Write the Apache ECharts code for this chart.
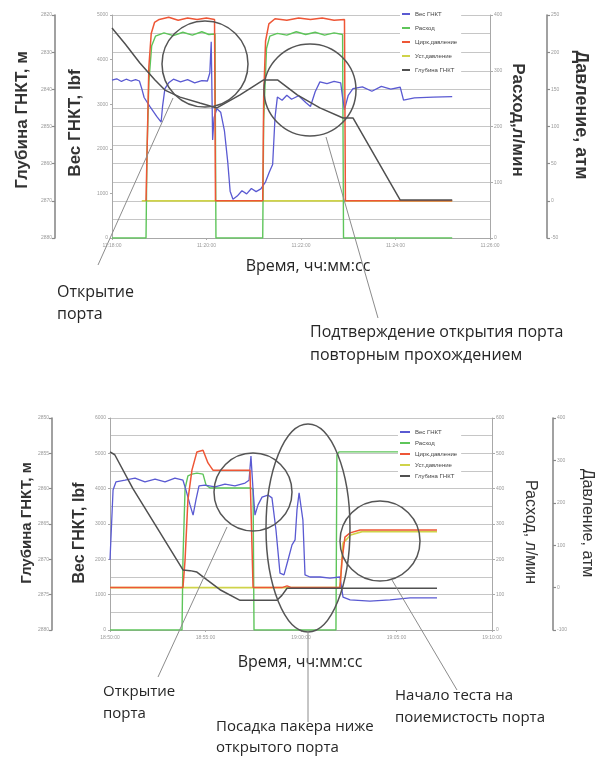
<!DOCTYPE html>
<html>
<head>
<meta charset="utf-8">
<script src="https://cdn.jsdelivr.net/npm/echarts@6/dist/echarts.min.js"></script>
<style>
  html, body { margin: 0; padding: 0; background: #fff; }
  #chart { width: 597px; height: 757px; }
</style>
</head>
<body>
<div id="chart"></div>
<script>
// ---- Run 1: port opening, time in minutes from the first tick ----
const c1TimeLabels = ['11:18:00', '11:20:00', '11:22:00', '11:24:00', '11:26:00'];
const c1Weight = [[0,3540],[0.1,3570],[0.2,3510],[0.3,3560],[0.4,3520],[0.5,3550],[0.58,3520],[0.63,3350],[0.68,3150],[0.8,2950],[0.95,2720],[1.04,2600],[1.07,2950],[1.12,3350],[1.2,3480],[1.3,3560],[1.45,3500],[1.6,3550],[1.75,3480],[1.9,3530],[2.02,3520],[2.07,3700],[2.1,4400],[2.13,2200],[2.16,2700],[2.22,2900],[2.3,2820],[2.38,2400],[2.45,1700],[2.5,1050],[2.56,870],[2.65,940],[2.75,1060],[2.85,990],[2.95,1110],[3.05,1040],[3.15,1100],[3.25,1260],[3.33,1480],[3.4,1650],[3.45,2700],[3.5,3160],[3.6,3090],[3.7,3200],[3.8,3110],[3.95,3190],[4.1,3040],[4.2,2950],[4.3,3280],[4.4,3500],[4.55,3460],[4.7,3510],[4.84,3480],[4.88,3150],[4.92,2880],[5.0,3200],[5.1,3350],[5.3,3390],[5.5,3290],[5.7,3400],[5.9,3340],[6.1,3380],[6.17,3090],[6.4,3140],[6.8,3160],[7.2,3170]];
const c1Flow = [[0,0],[0.72,0],[0.74,150],[0.78,280],[0.84,345],[0.92,362],[1.1,368],[1.3,363],[1.5,369],[1.7,364],[1.9,370],[2.05,365],[2.18,366],[2.2,0],[3.19,0],[3.21,210],[3.27,340],[3.34,362],[3.5,367],[3.7,364],[3.9,370],[4.1,365],[4.3,369],[4.5,364],[4.7,368],[4.88,365],[4.9,0],[7.2,0]];
const c1CircPressure = [[0.72,0],[0.75,90],[0.78,180],[0.83,225],[0.9,240],[1.0,244],[1.2,247],[1.4,243],[1.6,246],[1.8,244],[2.0,246],[2.17,244],[2.19,0],[3.19,0],[3.21,140],[3.25,215],[3.32,238],[3.45,245],[3.7,243],[3.95,246],[4.2,244],[4.45,246],[4.7,243],[4.92,244],[4.94,0],[7.2,0]];
const c1SetPressure = [[0.63,0],[7.2,0]];
const c1Depth = [[0,2823.5],[0.28,2827.8],[0.59,2832.9],[0.91,2837.5],[1.12,2840.2],[1.44,2842.1],[1.86,2843.7],[2.22,2845.0],[2.71,2841.5],[3.2,2837.5],[3.51,2837.5],[3.92,2841.5],[4.4,2845.0],[4.89,2847.7],[5.1,2847.7],[6.1,2869.8],[7.2,2869.8]];

// ---- Run 2: packer setting and injectivity test ----
const c2TimeLabels = ['18:50:00', '18:55:00', '19:00:00', '19:05:00', '19:10:00'];
const c2Weight = [[0,1980],[0.16,3960],[0.31,4190],[0.79,4240],[1.31,4300],[1.83,4190],[2.36,4270],[2.88,4190],[3.4,4300],[3.82,4240],[3.98,3960],[4.19,3540],[4.35,3250],[4.5,3680],[4.66,4080],[4.97,4100],[5.5,4050],[6.02,4130],[6.54,4080],[7.07,4160],[7.28,4240],[7.38,4920],[7.49,3960],[7.59,3250],[7.75,3540],[7.96,3760],[8.27,3820],[8.48,3740],[8.69,2830],[8.9,1610],[9.11,1560],[9.32,1980],[9.53,2410],[9.69,2550],[9.79,3400],[9.9,3880],[10.0,3900],[10.1,3110],[10.21,1560],[10.47,1500],[11.0,1500],[11.52,1470],[12.04,1500],[12.2,930],[12.57,850],[13.61,820],[14.66,850],[15.71,910],[17.12,910]];
const c2Flow = [[0,0],[3.77,0],[3.82,200],[3.93,400],[4.08,436],[4.29,441],[4.55,444],[4.87,441],[5.03,410],[5.24,402],[6.28,402],[7.33,402],[7.49,399],[7.54,0],[11.83,0],[11.88,495],[11.99,504],[17.12,504]];
const c2CircPressure = [[0,0],[3.82,0],[3.93,65],[4.08,207],[4.29,277],[4.55,320],[4.87,324],[5.13,294],[5.39,277],[6.28,277],[7.33,277],[7.43,277],[7.49,0],[9.0,0],[9.27,4],[9.5,0],[12.04,0],[12.15,65],[12.3,119],[12.57,129],[13.09,136],[15.18,136],[17.12,136]];
const c2SetPressure = [[0,0],[12.04,0],[12.2,105],[12.6,124],[13.2,132],[17.12,132]];
const c2Depth = [[0,2854.8],[0.25,2855.2],[1.2,2860.0],[2.5,2865.7],[3.82,2871.5],[4.19,2871.6],[4.55,2871.8],[5.08,2872.9],[5.76,2874.3],[6.81,2875.8],[8.74,2875.8],[9.0,2875.1],[9.27,2874.1],[17.12,2874.1]];

const seriesNames = ['Вес ГНКТ', 'Расход', 'Цирк.давление', 'Уст.давление', 'Глубина ГНКТ'];
const colors = { weight: '#5a5ad2', flow: '#5ec55a', circ: '#ee5636', set: '#cfd34a', depth: '#505050' };

const chart = echarts.init(document.getElementById('chart'), null, { renderer: 'canvas' });

const tickFont = { fontSize: 5, color: '#9a9a9a', fontFamily: 'Liberation Sans' };
const plain = v => String(v);
const borderColor = '#a8a8a8';

function xAxisDef(gridIndex, max, interval, labels) {
  return {
    gridIndex, type: 'value', min: 0, max, interval,
    axisLine: { show: true, lineStyle: { color: borderColor, width: 1 } },
    axisTick: { show: true, length: 2, lineStyle: { color: '#aaa' } },
    axisLabel: Object.assign({ margin: 5, formatter: v => labels[Math.round(v / interval)] || '' }, tickFont),
    splitLine: { show: false }
  };
}

function yAxesFor(gridIndex, w, d, f, p, depthOffset, pressOffset) {
  return [
    { // weight, lbf
      gridIndex, type: 'value', position: 'left', min: w[0], max: w[1], interval: w[2],
      axisLine: { show: true, lineStyle: { color: borderColor } },
      axisTick: { show: true, length: 2, lineStyle: { color: '#aaa' } },
      axisLabel: Object.assign({ margin: 4, formatter: plain }, tickFont), splitLine: { show: false }
    },
    { // depth, m
      gridIndex, type: 'value', position: 'left', offset: depthOffset, inverse: true,
      min: d[0], max: d[1], interval: d[2],
      axisLine: { show: true, lineStyle: { color: '#8a8a8a', width: 1.6 } },
      axisTick: { show: true, length: 3, lineStyle: { color: '#8a8a8a', width: 1.2 } },
      axisLabel: Object.assign({ margin: 3, formatter: plain }, tickFont), splitLine: { show: false }
    },
    { // flow, l/min
      gridIndex, type: 'value', position: 'right', min: f[0], max: f[1], interval: f[2],
      axisLine: { show: true, lineStyle: { color: borderColor } },
      axisTick: { show: true, length: 3, lineStyle: { color: '#aaa' } },
      axisLabel: Object.assign({ margin: 4, formatter: plain }, tickFont), splitLine: { show: false }
    },
    { // pressure, atm
      gridIndex, type: 'value', position: 'right', offset: pressOffset,
      min: p[0], max: p[1], interval: p[2],
      axisLine: { show: true, lineStyle: { color: '#8a8a8a', width: 1.6 } },
      axisTick: { show: true, length: 3, lineStyle: { color: '#8a8a8a', width: 1.2 } },
      axisLabel: Object.assign({ margin: 4, formatter: plain }, tickFont), splitLine: { show: false }
    },
    { // horizontal grid lines
      gridIndex, type: 'value', position: 'left', min: 0, max: 12, interval: 1,
      axisLine: { show: false }, axisTick: { show: false }, axisLabel: { show: false },
      splitLine: { show: true, lineStyle: { color: '#c6c6c6', width: 1.2 } }
    }
  ];
}

function seriesFor(gridIndex, yBase, d) {
  const common = { type: 'line', showSymbol: false, symbol: 'none', xAxisIndex: gridIndex, animation: false, silent: true };
  return [
    Object.assign({ name: 'Уст.давление', yAxisIndex: yBase + 3, data: d.set, lineStyle: { color: colors.set, width: 1.6 }, itemStyle: { color: colors.set } }, common),
    Object.assign({ name: 'Расход', yAxisIndex: yBase + 2, data: d.flow, lineStyle: { color: colors.flow, width: 1.4 }, itemStyle: { color: colors.flow } }, common),
    Object.assign({ name: 'Вес ГНКТ', yAxisIndex: yBase, data: d.weight, lineStyle: { color: colors.weight, width: 1.3 }, itemStyle: { color: colors.weight } }, common),
    Object.assign({ name: 'Цирк.давление', yAxisIndex: yBase + 3, data: d.circ, lineStyle: { color: colors.circ, width: 1.5 }, itemStyle: { color: colors.circ } }, common),
    Object.assign({ name: 'Глубина ГНКТ', yAxisIndex: yBase + 1, data: d.depth, lineStyle: { color: colors.depth, width: 1.5 }, itemStyle: { color: colors.depth } }, common)
  ];
}

function legendDef(left, top, gap, iw) {
  return {
    orient: 'vertical', left, top, itemWidth: iw, itemHeight: 2, itemGap: gap, icon: 'rect',
    padding: [2, 4, 2, 2], backgroundColor: '#fff', selectedMode: false,
    textStyle: { fontSize: 6, lineHeight: 8, color: '#444', fontFamily: 'Liberation Sans' },
    data: seriesNames
  };
}

// text helpers for titles and notes
const titleFont = (size, weight) => `${weight} ${size}px "Liberation Sans", Arial, sans-serif`;
function vText(x, y, s, size, rot, weight) {
  return { type: 'text', x, y, rotation: rot, silent: true,
    style: { text: s, font: titleFont(size, weight || 'bold'), fill: '#333', align: 'center', verticalAlign: 'middle' } };
}
function note(x, y, s, size, align) {
  return { type: 'text', x, y, silent: true,
    style: { text: s, font: `normal ${size}px "Open Sans", "Noto Sans", sans-serif`, fill: '#262626', align: align || 'left', verticalAlign: 'middle' } };
}
const ringStyle = { fill: 'none', stroke: '#555', lineWidth: 1.5 };
const leaderStyle = { stroke: '#8c8c8c', lineWidth: 1 };
function ring(cx, cy, r) { return { type: 'circle', silent: true, z: 50, shape: { cx, cy, r }, style: ringStyle }; }
function oval(cx, cy, rx, ry) { return { type: 'ellipse', silent: true, z: 50, shape: { cx, cy, rx, ry }, style: ringStyle }; }
function leader(x1, y1, x2, y2) { return { type: 'line', silent: true, z: 50, shape: { x1, y1, x2, y2 }, style: leaderStyle }; }

const option = {
  animation: false,
  backgroundColor: '#fff',
  grid: [
    { left: 112, top: 15, width: 378, height: 223 },
    { left: 110, top: 418, width: 382, height: 212 }
  ],
  xAxis: [
    xAxisDef(0, 8, 2, c1TimeLabels),
    xAxisDef(1, 20, 5, c2TimeLabels)
  ],
  yAxis: [].concat(
    yAxesFor(0, [0, 5000, 1000], [2820, 2880, 10], [0, 400, 100], [-50, 250, 50], 57, 57),
    yAxesFor(1, [0, 6000, 1000], [2850, 2880, 5], [0, 600, 100], [-100, 400, 100], 58, 61)
  ),
  legend: [
    legendDef(400, 8, 6, 8),
    legendDef(398, 426, 3, 10)
  ],
  series: [].concat(
    seriesFor(0, 0, { weight: c1Weight, flow: c1Flow, circ: c1CircPressure, set: c1SetPressure, depth: c1Depth }),
    seriesFor(1, 5, { weight: c2Weight, flow: c2Flow, circ: c2CircPressure, set: c2SetPressure, depth: c2Depth })
  ),
  graphic: [
    // upper chart: axis titles
    vText(22, 120, 'Глубина ГНКТ, м', 17, Math.PI / 2),
    vText(75, 123, 'Вес ГНКТ, lbf', 17, Math.PI / 2),
    vText(518, 120, 'Расход,л/мин', 17, -Math.PI / 2),
    vText(581, 115, 'Давление, атм', 18, -Math.PI / 2),
    note(308, 266, 'Время, чч:мм:сс', 16, 'center'),
    // upper chart: highlighted events
    ring(205, 64, 43),
    ring(310, 90, 46),
    leader(173, 98, 98, 265),
    leader(326, 137, 378, 318),
    note(57, 292, 'Открытие', 16),
    note(57, 314, 'порта', 16),
    note(310, 332, 'Подтверждение открытия порта', 16),
    note(310, 355, 'повторным прохождением', 16),

    // lower chart: axis titles
    vText(27, 523, 'Глубина ГНКТ, м', 15, Math.PI / 2),
    vText(80, 533, 'Вес ГНКТ, lbf', 16, Math.PI / 2),
    vText(530, 532, 'Расход, л/мин', 16, -Math.PI / 2, 'normal'),
    vText(587, 523, 'Давление, атм', 16, -Math.PI / 2, 'normal'),
    note(300, 662, 'Время, чч:мм:сс', 16, 'center'),
    // lower chart: highlighted events
    ring(253, 492, 39),
    oval(308, 528, 42, 104),
    ring(380, 541, 40),
    leader(227, 527, 158, 677),
    leader(308, 632, 308, 722),
    leader(392, 580, 457, 690),
    note(103, 692, 'Открытие', 15),
    note(103, 714, 'порта', 15),
    note(216, 727, 'Посадка пакера ниже', 15),
    note(216, 748, 'открытого порта', 15),
    note(395, 696, 'Начало теста на', 15),
    note(395, 718, 'поиемистость порта', 15)
  ]
};

chart.setOption(option);
</script>
</body>
</html>
